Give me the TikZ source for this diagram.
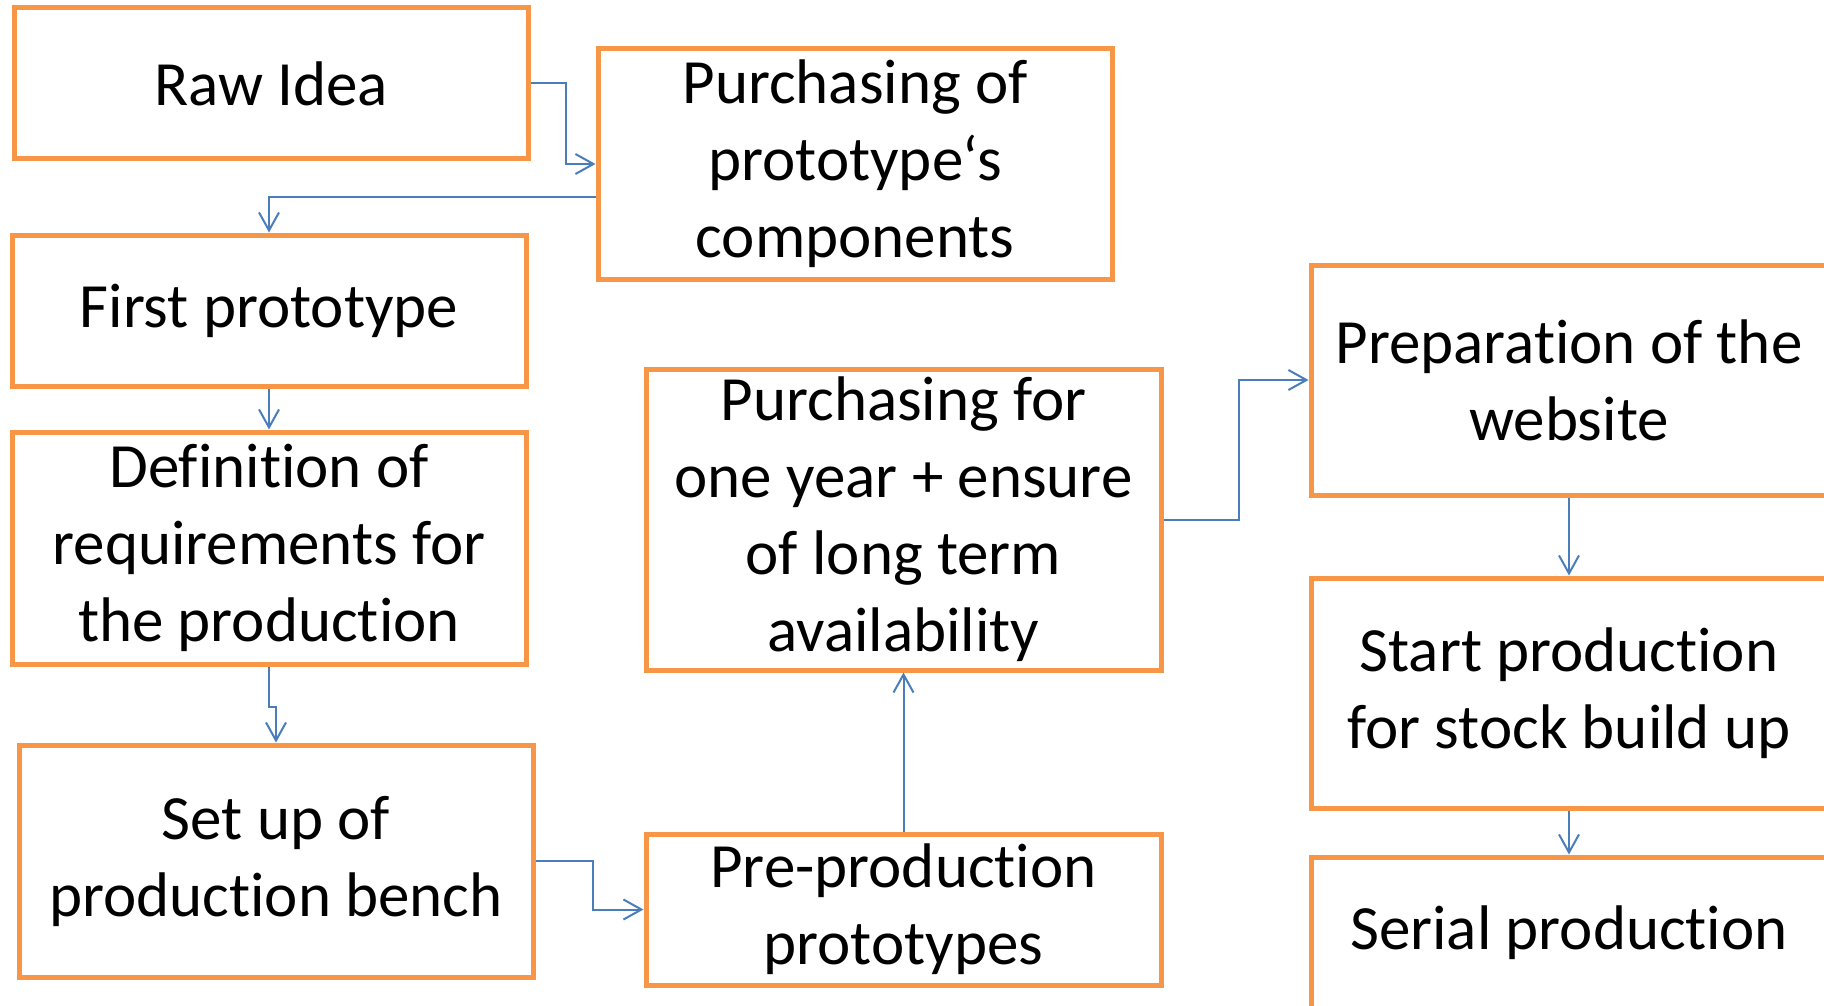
\documentclass[tikz,border=0pt]{standalone}
\usepackage{fontspec}
\setmainfont{Carlito}[Ligatures=NoCommon]
\usetikzlibrary{arrows.meta,calc}
\definecolor{boxorange}{HTML}{F79646}
\definecolor{linkblue}{HTML}{4A7EBB}
\begin{document}
\begin{tikzpicture}[x=1pt,y=-1pt,
  stepbox/.style={draw=boxorange, line width=5pt, fill=white, inner sep=0pt,
    align=center, font=\fontsize{63}{77}\selectfont},
  link/.style={draw=linkblue, line width=2pt,
    -{Straight Barb[length=18pt,width=20pt,line width=2pt]}}]
\useasboundingbox (0,0) rectangle (1824,1006);
\clip (0,0) rectangle (1824,1006);
\fill[white] (0,0) rectangle (1824,1006);

\node[stepbox, minimum width=514pt, minimum height=151pt] (raw) at (271,83.5) {Raw Idea};
\node[stepbox, minimum width=514pt, minimum height=230pt] (pp) at (855,164) {Purchasing of\\prototype‘s\\components};
\node[stepbox, minimum width=514pt, minimum height=151pt] (fp) at (269,310.5) {First prototype};
\node[stepbox, minimum width=514pt, minimum height=232pt] (def) at (269,548) {Definition of\\requirements for\\the production};
\node[stepbox, minimum width=514pt, minimum height=232pt] (setup) at (276,861) {Set up of\\production bench};
\node[stepbox, minimum width=515pt, minimum height=151pt] (pre) at (903.5,909.5) {Pre-production\\prototypes};
\node[stepbox, minimum width=515pt, minimum height=301pt] (py) at (903.5,519.5) {Purchasing for\\one year + ensure\\of long term\\availability};
\node[stepbox, minimum width=516pt, minimum height=230pt] (prep) at (1569,380) {Preparation of the\\website};
\node[stepbox, minimum width=516pt, minimum height=230pt] (start) at (1569,693) {Start production\\for stock build up};
\node[stepbox, minimum width=516pt, minimum height=151pt] (serial) at (1569,932.5) {Serial production};

\draw[link] (raw.east) -- ++(35,0) |- (pp.west);
\draw[link] ($(pp.west)+(0,33)$) -| (fp.north);
\draw[link] (fp.south) -- (def.north);
\draw[link] (def.south) -- ++(0,40) -| (setup.north);
\draw[link] (setup.east) -- ++(57,0) |- (pre.west);
\draw[link] (pre.north) -- (py.south);
\draw[link] (py.east) -- ++(75,0) |- (prep.west);
\draw[link] (prep.south) -- (start.north);
\draw[link] (start.south) -- (serial.north);
\end{tikzpicture}
\end{document}
